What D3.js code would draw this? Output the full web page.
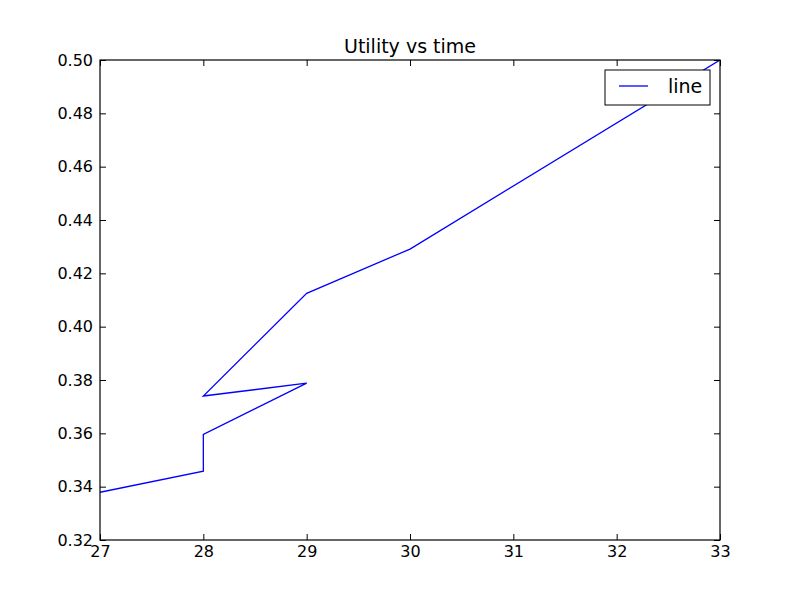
<!DOCTYPE html>
<html>
<head>
<meta charset="utf-8">
<script src="https://cdn.jsdelivr.net/npm/d3@7"></script>
<style>
  body { margin: 0; background: #fff; }
  svg { font-family: "DejaVu Sans", sans-serif; }
</style>
</head>
<body>
<div id="chart"></div>
<script>
// data
const TIMES = [27, 28, 28, 29, 28, 29, 30, 33];
const UTILITY = [0.3379, 0.3458, 0.3596, 0.3788, 0.3740, 0.4125, 0.4291, 0.5000];
const X_TICKS = [27, 28, 29, 30, 31, 32, 33];
const Y_TICKS = [0.32, 0.34, 0.36, 0.38, 0.40, 0.42, 0.44, 0.46, 0.48, 0.50];
const TITLE = "Utility vs time";
const SERIES_NAME = "line";

const FRAME_WIDTH = 800;
const FRAME_HEIGHT = 600;
const MARGINS = {left: 100, right: 80, top: 60, bottom: 60};
const VIS_WIDTH = FRAME_WIDTH - MARGINS.left - MARGINS.right;
const VIS_HEIGHT = FRAME_HEIGHT - MARGINS.top - MARGINS.bottom;

const svg = d3.select("#chart")
  .append("svg")
  .attr("width", FRAME_WIDTH)
  .attr("height", FRAME_HEIGHT);

const g = svg.append("g")
  .attr("transform", `translate(${MARGINS.left},${MARGINS.top})`);

const x = d3.scaleLinear().domain([27, 33]).range([0, VIS_WIDTH]);
const y = d3.scaleLinear().domain([0.32, 0.50]).range([VIS_HEIGHT, 0]);

// clip so the line stays inside the axes
svg.append("defs").append("clipPath").attr("id", "clip")
  .append("rect").attr("width", VIS_WIDTH).attr("height", VIS_HEIGHT);

const data = TIMES.map((t, i) => ({t: t, u: UTILITY[i]}));

g.append("path")
  .datum(data)
  .attr("clip-path", "url(#clip)")
  .attr("fill", "none")
  .attr("stroke", "#0000ff")
  .attr("stroke-width", 1.3)
  .attr("d", d3.line().x(d => x(d.t)).y(d => y(d.u)));

// axes, matplotlib classic style: ticks pointing inward on all sides
const TICK = 6;
function styleAxis(sel) {
  sel.select(".domain").remove();
  sel.selectAll(".tick line").attr("stroke", "#000");
  sel.selectAll(".tick text").attr("fill", "#000").attr("font-size", "16px")
    .attr("font-family", "DejaVu Sans, sans-serif");
}

g.append("g")
  .attr("transform", `translate(0,${VIS_HEIGHT})`)
  .call(d3.axisBottom(x).tickValues(X_TICKS).tickFormat(d3.format("d"))
    .tickSizeInner(-TICK).tickSizeOuter(0).tickPadding(6))
  .call(styleAxis);

g.append("g")
  .call(d3.axisTop(x).tickValues(X_TICKS).tickFormat("")
    .tickSizeInner(-TICK).tickSizeOuter(0))
  .call(styleAxis);

g.append("g")
  .call(d3.axisLeft(y).tickValues(Y_TICKS).tickFormat(d3.format(".2f"))
    .tickSizeInner(-TICK).tickSizeOuter(0).tickPadding(7))
  .call(styleAxis);

g.append("g")
  .attr("transform", `translate(${VIS_WIDTH},0)`)
  .call(d3.axisRight(y).tickValues(Y_TICKS).tickFormat("")
    .tickSizeInner(-TICK).tickSizeOuter(0))
  .call(styleAxis);

// frame
g.append("rect")
  .attr("width", VIS_WIDTH)
  .attr("height", VIS_HEIGHT)
  .attr("fill", "none")
  .attr("stroke", "#000")
  .attr("stroke-width", 1.2);

// title
svg.append("text")
  .attr("x", MARGINS.left + VIS_WIDTH / 2)
  .attr("y", MARGINS.top - 7)
  .attr("text-anchor", "middle")
  .attr("font-size", "19px")
  .text(TITLE);

// legend
const legend = g.append("g").attr("transform", `translate(${VIS_WIDTH - 115},10)`);
legend.append("rect")
  .attr("width", 105)
  .attr("height", 35)
  .attr("fill", "#fff")
  .attr("stroke", "#000");
legend.append("line")
  .attr("x1", 14).attr("x2", 43)
  .attr("y1", 16).attr("y2", 16)
  .attr("stroke", "#0000ff")
  .attr("stroke-width", 1.3);
legend.append("text")
  .attr("x", 63)
  .attr("y", 23)
  .attr("font-size", "19px")
  .text(SERIES_NAME);
</script>
</body>
</html>
